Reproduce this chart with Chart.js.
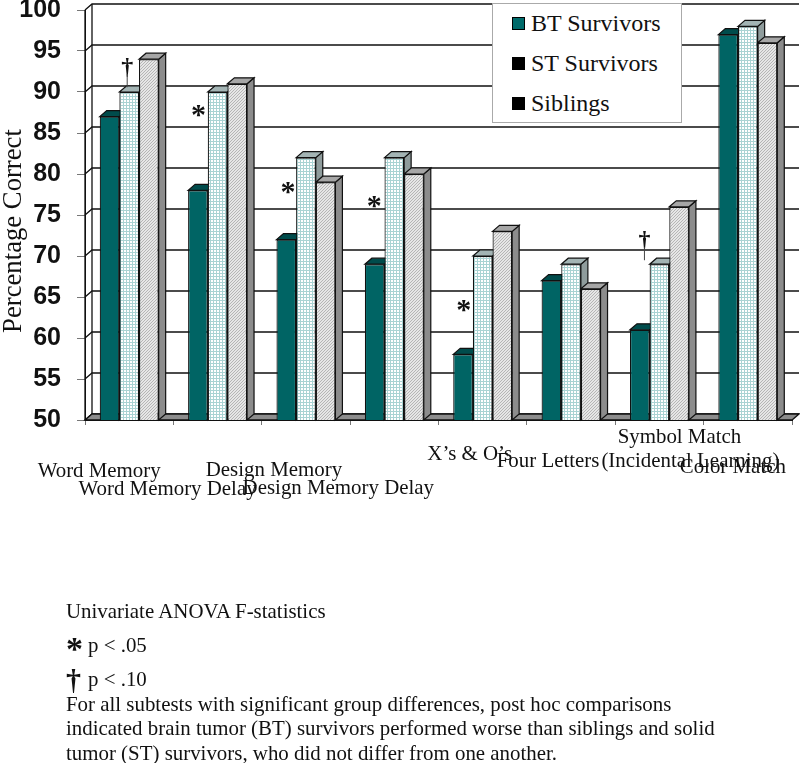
<!DOCTYPE html>
<html>
<head>
<meta charset="utf-8">
<title>Percentage Correct</title>
<script src="https://cdn.jsdelivr.net/npm/chart.js@4"></script>
<style>
    html, body { margin: 0; padding: 0; background: #fff; }
    #wrap { position: relative; width: 800px; height: 763px; overflow: hidden; font-family: "Liberation Serif", serif; color: #111; }
    #chart { position: absolute; left: 0; top: 0; }
    #legend { position: absolute; left: 492px; top: 3px; width: 188px; height: 118px; background: #fff; border: 1px solid #aaa; font-size: 24px; }
    #legend div { position: absolute; left: 38px; white-space: nowrap; line-height: 26px; }
    #legend i { position: absolute; left: -19px; top: 7px; width: 11px; height: 11px; background: #000; border: 1px solid #000; }
    #notes div { position: absolute; left: 66px; font-size: 20.9px; line-height: 24px; white-space: nowrap; }
</style>
</head>
<body>
<div id="wrap">
    <canvas id="chart" width="800" height="763"></canvas>
    <div id="legend">
        <div style="top:6px"><i style="background:#006b6b"></i>BT Survivors</div>
        <div style="top:46px"><i></i>ST Survivors</div>
        <div style="top:86px"><i></i>Siblings</div>
    </div>
    <div id="notes">
        <div style="top:599px">Univariate ANOVA F-statistics</div>
        <div style="top:633px"><span style="font:bold 34px 'Liberation Serif';position:absolute;left:0;top:-3px">*</span><span style="margin-left:22px">p &lt; .05</span></div>
        <div style="top:667px"><span style="font:bold 30px 'Liberation Serif';position:absolute;left:0;top:-4px">†</span><span style="margin-left:22px">p &lt; .10</span></div>
        <div style="top:692px">For all subtests with significant group differences, post hoc comparisons</div>
        <div style="top:716px">indicated brain tumor (BT) survivors performed worse than siblings and solid</div>
        <div style="top:741px">tumor (ST) survivors, who did not differ from one another.</div>
    </div>
</div>
<script>
const categories = ['Word Memory', 'Word Memory Delay', 'Design Memory', 'Design Memory Delay', "X’s & O’s", 'Four Letters', 'Symbol Match', 'Color Match'];
const btSurvivors = [87, 78, 72, 69, 58, 67, 61, 97];
const stSurvivors = [90, 90, 82, 82, 70, 69, 69, 98];
const siblings = [94, 91, 79, 80, 73, 66, 76, 96];
const yTicks = [50, 55, 60, 65, 70, 75, 80, 85, 90, 95, 100];

// significance marks: which group, which symbol, and the value it sits at
const markGroups = [0, 1, 2, 3, 4, 6];
const markSymbols = ['†', '*', '*', '*', '*', '†'];
const markValues = [92.9, 87.6, 78.3, 76.5, 63.9, 71.8];
const markShift = [-2, -19, -18, -20, -19, -15];

const DEPTH_X = 7;
const DEPTH_Y = 6;

// the x labels were dragged around by hand in the original
const labelShift = [[-30, 52], [-50, 70], [-32, 51], [-56, 69], [-13, 35], [-23, 42], [20, 18], [-15, 48]];
const extraLabel = { text: '(Incidental Learning)', group: 6, dx: 31, dy: 42 };

function makePattern(size, draw) {
    const c = document.createElement('canvas');
    c.width = size;
    c.height = size;
    const g = c.getContext('2d');
    g.fillStyle = '#fff';
    g.fillRect(0, 0, size, size);
    draw(g);
    return document.getElementById('chart').getContext('2d').createPattern(c, 'repeat');
}

const gridFill = makePattern(3, g => {
    g.fillStyle = '#a9d3d3';
    g.fillRect(0, 0, 3, 1);
    g.fillRect(0, 0, 1, 3);
});
const hatchFill = makePattern(3, g => {
    g.fillStyle = '#e6e6e6';
    g.fillRect(0, 0, 3, 3);
    g.fillStyle = '#b5b5b5';
    g.fillRect(2, 0, 1, 1);
    g.fillRect(1, 1, 1, 1);
    g.fillRect(0, 2, 1, 1);
});

const faceColors = [
    { top: '#004c4c', side: '#004040' },
    { top: '#a3b4b4', side: '#8f9c9c' },
    { top: '#a6a6a6', side: '#8c8c8c' }
];

function poly(ctx, pts, fill) {
    ctx.beginPath();
    pts.forEach((p, i) => i ? ctx.lineTo(p[0], p[1]) : ctx.moveTo(p[0], p[1]));
    ctx.closePath();
    if (fill) {
        ctx.fillStyle = fill;
        ctx.fill();
    }
    ctx.stroke();
}

const wallPlugin = {
    id: 'wall',
    beforeDatasetsDraw(chart) {
        const { ctx, chartArea: a, scales: { y } } = chart;
        ctx.save();
        ctx.strokeStyle = '#111';
        ctx.lineWidth = 1.3;
        // left wall and back wall gridlines
        yTicks.forEach(v => {
            const py = y.getPixelForValue(v);
            ctx.beginPath();
            ctx.moveTo(a.left, py);
            ctx.lineTo(a.left + DEPTH_X, py - DEPTH_Y);
            ctx.lineTo(a.right + DEPTH_X, py - DEPTH_Y);
            ctx.stroke();
        });
        ctx.beginPath();
        ctx.moveTo(a.left, a.top);
        ctx.lineTo(a.left, a.bottom);
        ctx.moveTo(a.left + DEPTH_X, a.top - DEPTH_Y);
        ctx.lineTo(a.left + DEPTH_X, a.bottom - DEPTH_Y);
        ctx.stroke();
        // floor
        poly(ctx, [[a.left, a.bottom], [a.left + DEPTH_X, a.bottom - DEPTH_Y], [a.right + DEPTH_X, a.bottom - DEPTH_Y], [a.right, a.bottom]], '#8c8c8c');

        // tops and sides of the bars, left to right, the library draws the fronts over them
        ctx.lineWidth = 1.2;
        chart.data.datasets.forEach((ds, d) => {
            const face = faceColors[d];
            chart.getDatasetMeta(d).data.forEach(bar => {
                const l = bar.x - bar.width / 2;
                const r = bar.x + bar.width / 2;
                poly(ctx, [[r, bar.y], [r + DEPTH_X, bar.y - DEPTH_Y], [r + DEPTH_X, a.bottom - DEPTH_Y], [r, a.bottom]], face.side);
                poly(ctx, [[l, bar.y], [l + DEPTH_X, bar.y - DEPTH_Y], [r + DEPTH_X, bar.y - DEPTH_Y], [r, bar.y]], face.top);
            });
        });
        ctx.restore();
    },
    afterDraw(chart) {
        const { ctx, chartArea: a, scales: { x, y } } = chart;
        ctx.save();
        ctx.fillStyle = '#111';
        ctx.textAlign = 'center';
        ctx.textBaseline = 'middle';
        ctx.font = '20.9px "Liberation Serif"';
        categories.forEach((name, i) => {
            ctx.fillText(name, x.getPixelForValue(i) + labelShift[i][0], a.bottom + labelShift[i][1]);
        });
        ctx.fillText(extraLabel.text, x.getPixelForValue(extraLabel.group) + extraLabel.dx, a.bottom + extraLabel.dy);

        markGroups.forEach((g, i) => {
            const px = x.getPixelForValue(g) + markShift[i];
            const py = y.getPixelForValue(markValues[i]);
            if (markSymbols[i] === '*') {
                ctx.font = 'bold 30px "Liberation Serif"';
                ctx.fillText('*', px, py + 5);
            } else {
                ctx.font = 'bold 24px "Liberation Serif"';
                ctx.fillText('†', px, py);
                ctx.strokeStyle = '#444';
                ctx.lineWidth = 1;
                ctx.beginPath();
                ctx.moveTo(px, py + 6);
                ctx.lineTo(px, py + 19);
                ctx.stroke();
            }
        });
        ctx.restore();
    }
};

document.addEventListener('DOMContentLoaded', () => {
    const chartCtx = document.getElementById('chart').getContext('2d');
    new Chart(chartCtx, {
        type: 'bar',
        data: {
            labels: categories,
            datasets: [{
                label: 'BT Survivors',
                data: btSurvivors,
                backgroundColor: '#006464',
                borderColor: '#111',
                borderWidth: 1.2
            }, {
                label: 'ST Survivors',
                data: stSurvivors,
                backgroundColor: gridFill,
                borderColor: '#111',
                borderWidth: 1.2
            }, {
                label: 'Siblings',
                data: siblings,
                backgroundColor: hatchFill,
                borderColor: '#111',
                borderWidth: 1.2
            }]
        },
        options: {
            responsive: false,
            animation: false,
            layout: { padding: { top: 10, right: 8, bottom: 343, left: 0 } },
            datasets: { bar: { categoryPercentage: 0.667, barPercentage: 1 } },
            plugins: {
                legend: { display: false },
                tooltip: { enabled: false }
            },
            scales: {
                x: {
                    afterFit(scale) { scale.height = 0; },
                    grid: { offset: true, drawOnChartArea: false, color: '#777', tickLength: 5 },
                    border: { color: '#111' },
                    ticks: { display: false }
                },
                y: {
                    min: 50,
                    max: 100,
                    afterFit(scale) {
                        scale.width = 85;
                        scale.paddingTop = 0;
                        scale.paddingBottom = 0;
                    },
                    afterBuildTicks(scale) { scale.ticks = yTicks.map(v => ({ value: v })); },
                    grid: { drawOnChartArea: false, color: '#777', tickLength: 8 },
                    border: { color: '#111' },
                    title: {
                        display: true,
                        // trailing spaces push the centred title down the axis
                        text: 'Percentage Correct\u00a0\u00a0\u00a0\u00a0\u2009',
                        color: '#111',
                        font: { family: '"Liberation Serif"', size: 26.7 },
                        padding: { top: -2, bottom: 0 }
                    },
                    ticks: {
                        color: '#111',
                        padding: 16,
                        font: { family: '"Liberation Sans"', size: 25, weight: 'bold' }
                    }
                }
            }
        },
        plugins: [wallPlugin]
    });
});
</script>
</body>
</html>
